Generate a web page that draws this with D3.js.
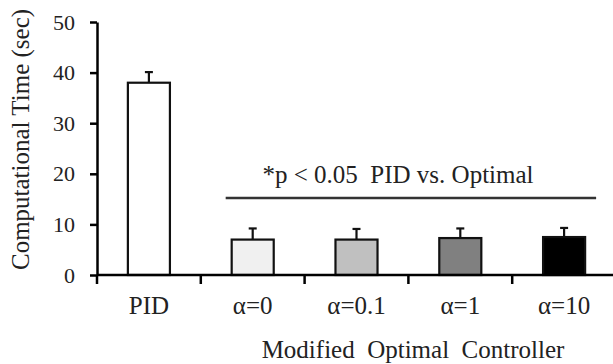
<!DOCTYPE html>
<html>
<head>
<meta charset="utf-8">
<script src="https://cdn.jsdelivr.net/npm/d3@7"></script>
</head>
<body style="margin:0;background:#fff">
<svg id="chart" width="613" height="364"></svg>
<script>
const categories = ["PID", "α=0", "α=0.1", "α=1", "α=10"];
const values = [38, 7.0, 7.0, 7.3, 7.5];
const errors = [2.1, 2.2, 2.1, 1.9, 1.8];
const fills = ["#ffffff", "#f0f0f0", "#c0c0c0", "#808080", "#000000"];
const yTicks = [0, 10, 20, 30, 40, 50];
const sigText = "*p < 0.05  PID vs. Optimal";
const groupLabel = "Modified  Optimal  Controller";
const yTitle = "Computational Time (sec)";

const FONT = '"Liberation Serif"';
const svg = d3.select("#chart");
const x0 = 97, x1 = 616, yTop = 22, yBot = 275;

const x = d3.scaleBand().domain(categories).range([x0, x1])
  .paddingInner(0.595).paddingOuter(0.2975);
const y = d3.scaleLinear().domain([0, 50]).range([yBot, yTop]);
const step = x.step(), bw = x.bandwidth();

// bars
svg.append("g").selectAll("rect").data(categories).join("rect")
  .attr("x", d => x(d)).attr("width", bw)
  .attr("y", (d, i) => y(values[i]))
  .attr("height", (d, i) => y(0) - y(values[i]))
  .attr("fill", (d, i) => fills[i])
  .attr("stroke", "#111").attr("stroke-width", 2.2);

// error bars
const eg = svg.append("g").attr("stroke", "#111").attr("stroke-width", 2.2);
categories.forEach((c, i) => {
  const cx = x(c) + bw / 2;
  eg.append("line").attr("x1", cx).attr("x2", cx)
    .attr("y1", y(values[i])).attr("y2", y(values[i] + errors[i]));
  eg.append("line").attr("x1", cx - 4).attr("x2", cx + 4)
    .attr("y1", y(values[i] + errors[i])).attr("y2", y(values[i] + errors[i]));
});

// y axis
const ya = svg.append("g").attr("transform", `translate(${x0},0)`)
  .call(d3.axisLeft(y).tickValues(yTicks).tickSize(7).tickSizeOuter(0).tickPadding(15));
ya.select(".domain").attr("stroke", "#000").attr("stroke-width", 2.5);
ya.selectAll(".tick line").attr("stroke", "#000").attr("stroke-width", 2.5);
ya.selectAll(".tick text").attr("fill", "#222")
  .style("font-family", FONT).style("font-size", "22px");

// x axis
const xa = svg.append("g").attr("transform", `translate(0,${yBot})`)
  .call(d3.axisBottom(x).tickSize(0).tickSizeOuter(0).tickPadding(21));
xa.select(".domain").remove();
xa.selectAll(".tick text").attr("fill", "#222")
  .style("font-family", FONT).style("font-size", "25px");
svg.append("line").attr("x1", x0).attr("x2", x1).attr("y1", yBot).attr("y2", yBot)
  .attr("stroke", "#000").attr("stroke-width", 2.5);
// category boundary ticks
const bounds = categories.map(c => x(c) + bw / 2 - step / 2);
svg.append("g").selectAll("line").data(bounds).join("line")
  .attr("x1", d => d).attr("x2", d => d)
  .attr("y1", yBot).attr("y2", yBot + 9)
  .attr("stroke", "#000").attr("stroke-width", 2.5);

// y title
svg.append("text")
  .attr("transform", `translate(29,${(8 + 271) / 2}) rotate(-90)`)
  .attr("text-anchor", "middle")
  .attr("fill", "#222").style("font-family", FONT).style("font-size", "25px")
  .text(yTitle);

// significance line and text
const sigX1 = x(categories[1]) - 6, sigX2 = x(categories[4]) + bw + 11;
svg.append("line").attr("x1", sigX1).attr("x2", sigX2)
  .attr("y1", 198).attr("y2", 198).attr("stroke", "#333").attr("stroke-width", 2.5);
svg.append("text").attr("x", 398).attr("y", 183).attr("text-anchor", "middle")
  .attr("fill", "#222").style("font-family", FONT).style("font-size", "25px")
  .style("white-space", "pre").text(sigText);

// group label
svg.append("text").attr("x", 413).attr("y", 358).attr("text-anchor", "middle")
  .attr("fill", "#222").style("font-family", FONT).style("font-size", "25px")
  .style("white-space", "pre").text(groupLabel);
</script>
</body>
</html>
